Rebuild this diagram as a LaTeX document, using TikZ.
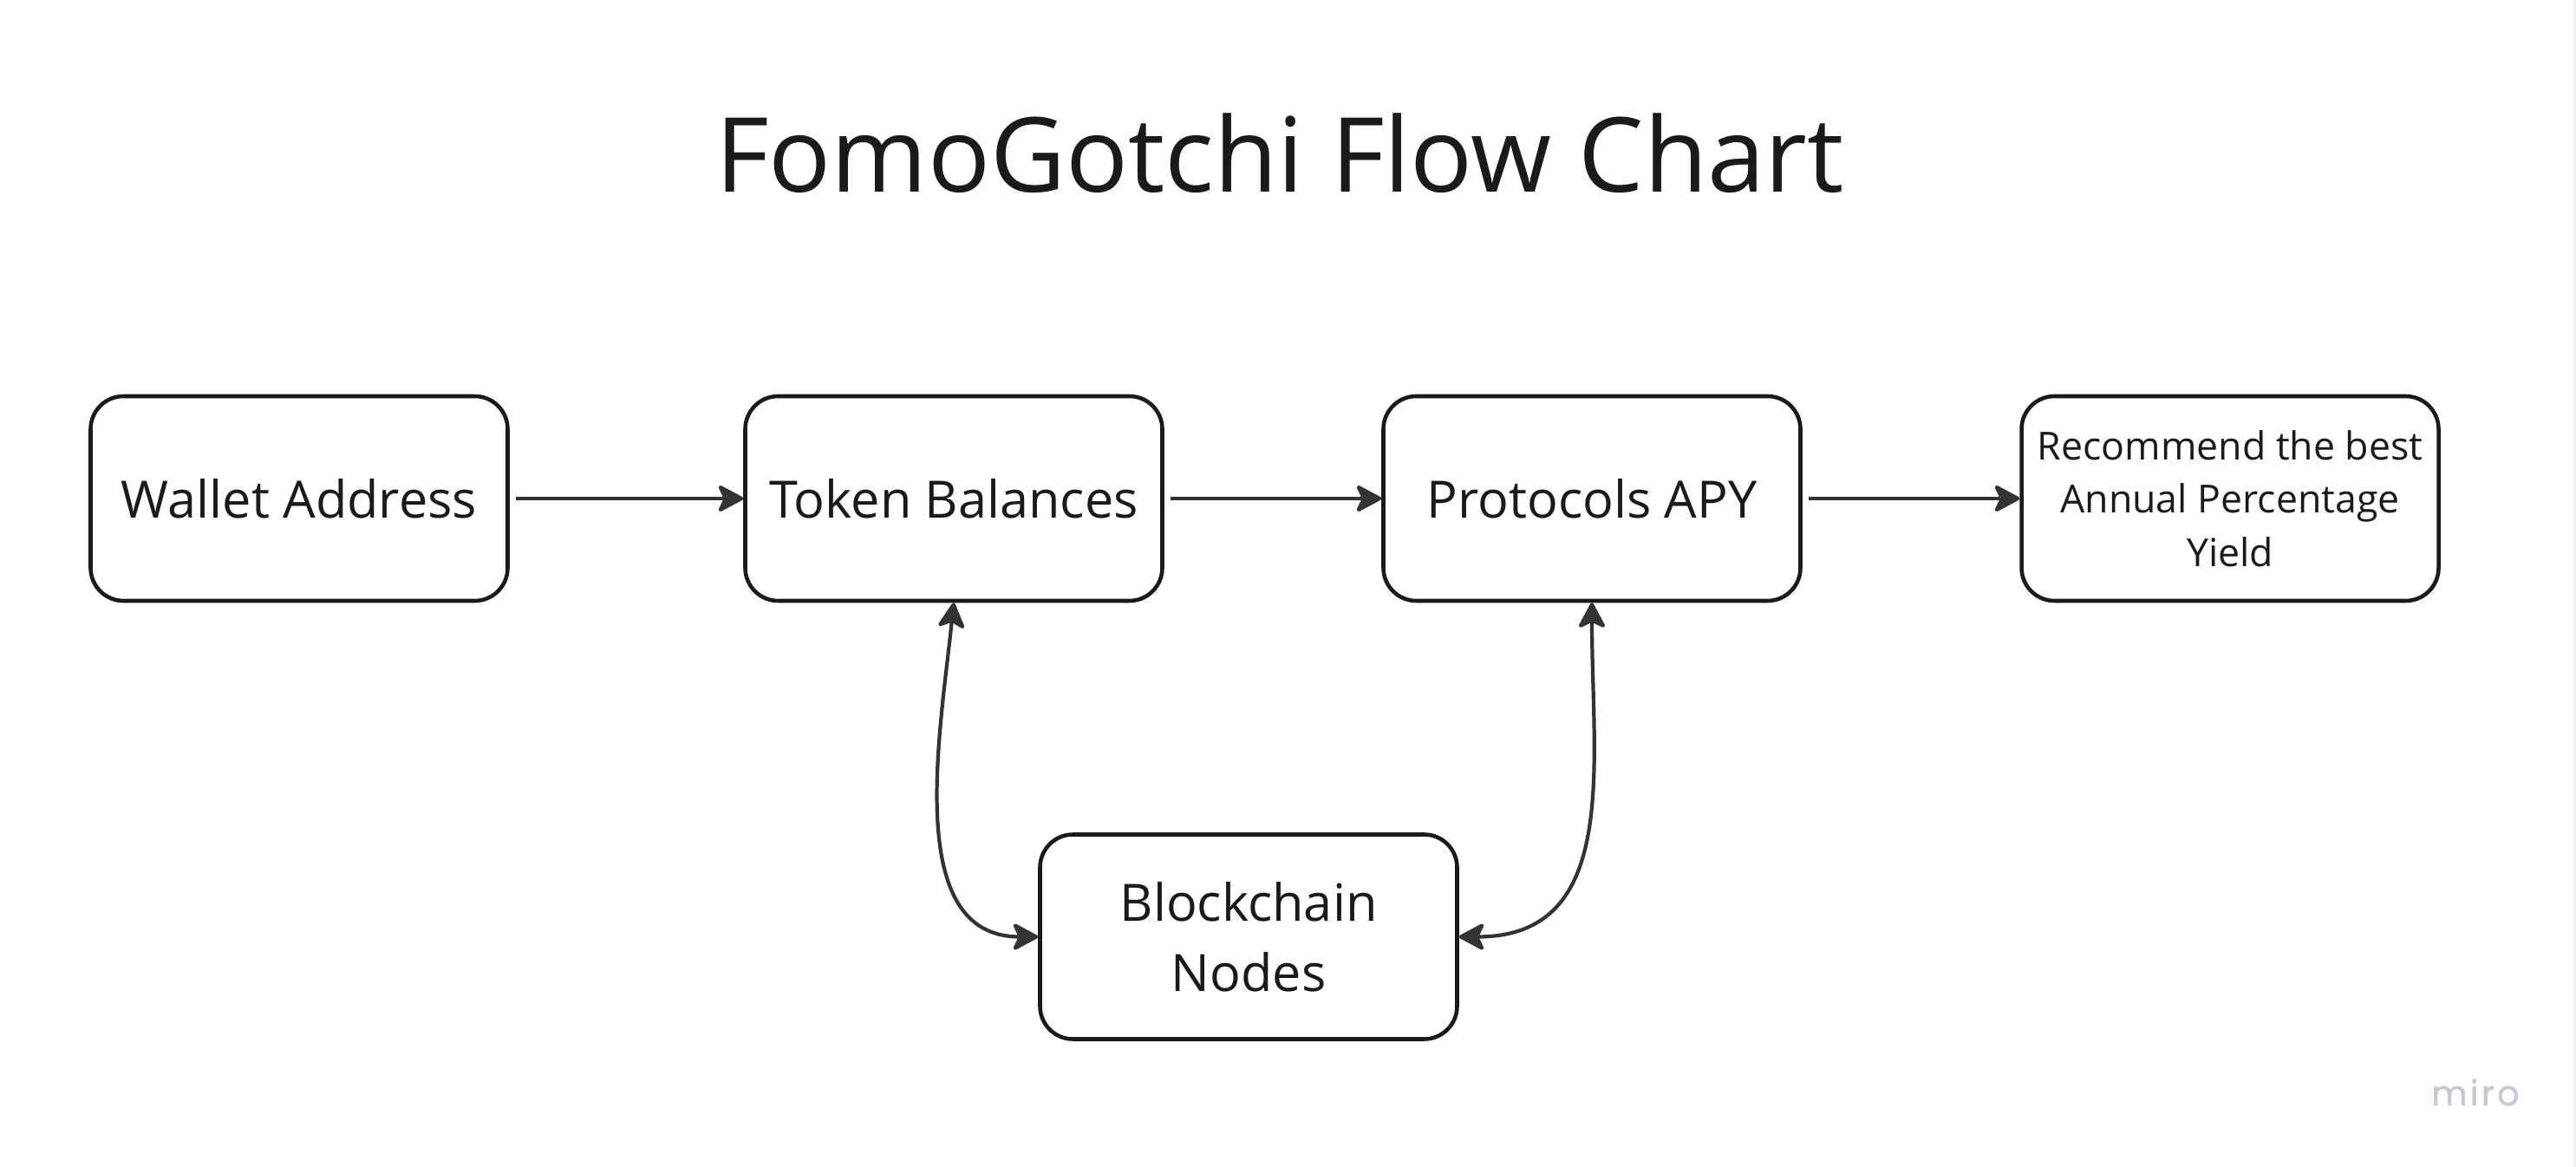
\documentclass[tikz,border=0pt]{standalone}
\usepackage{fontspec}
\setmainfont{Open Sans}
\newfontfamily\logofont{Poppins}[LetterSpace=8, FakeBold=1.2]
\usetikzlibrary{arrows.meta, positioning}
\usepackage{xcolor}
\definecolor{inkline}{HTML}{1A1A1A}
\definecolor{arrowgray}{HTML}{333333}
\definecolor{logogray}{RGB}{200,200,210}

\begin{document}
\begin{tikzpicture}[
  font=\fontsize{16.9}{23}\selectfont,
  block/.style={draw=inkline, line width=1.3pt, rounded corners=0.38cm,
                minimum width=4.81cm, minimum height=2.36cm, align=center,
                inner sep=2pt, text=inkline, fill=white},
  flow/.style={-{Stealth[length=0.33cm, width=0.35cm, inset=0.08cm, round]},
               line width=1.2pt, arrowgray, shorten <=2pt},
  link/.style={{Stealth[length=0.33cm, width=0.35cm, inset=0.08cm, round]}-{Stealth[length=0.33cm, width=0.35cm, inset=0.08cm, round]},
               line width=1.2pt, arrowgray}
]
\useasboundingbox (0,0) rectangle (29.71,13.46);
\fill[gray!12] (29.68,0) rectangle (29.71,13.46);

\node[anchor=base, font=\fontsize{34}{40}\selectfont, text=inkline] (title) at (14.76,11.24) {FomoGotchi Flow Chart};

\node[block] (wallet)  at (3.45,7.71)  {Wallet Address};
\node[block] (token)   at (11.00,7.71) {Token Balances};
\node[block] (proto)   at (18.36,7.71) {Protocols APY};
\node[block, font=\fontsize{12.7}{17.5}\selectfont]
             (best)    at (25.72,7.71) {Recommend the best\\Annual Percentage\\Yield};
\node[block] (chain)   at (14.40,2.655) {Blockchain\\Nodes};

\draw[flow] (wallet) -- (token);
\draw[flow] (token)  -- (proto);
\draw[flow] (proto)  -- (best);

%% links to the chain
\draw[link] (token.south) to[out=-96, in=180] (chain.west);
\draw[link] (proto.south) to[out=-90, in=0, looseness=1.15] (chain.east);

\node[anchor=base, font=\logofont\fontsize{11.4}{14}\selectfont, text=logogray]
     (logo) at (28.55,0.71) {miro};

\end{tikzpicture}
\end{document}
